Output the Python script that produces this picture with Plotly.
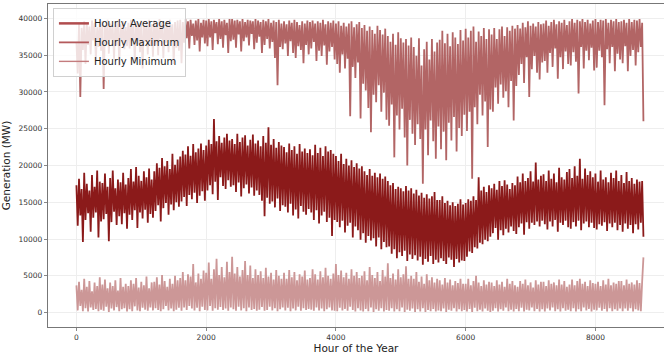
import plotly.graph_objects as go

# Hour positions of the sampled readings (one reading every 20 hours)
hours = list(range(0, 8760, 20))

# Values (MW); consecutive readings swing between
# the upper and lower edge of each band, as the hourly data does.
hourly_average = [
    17300, 11800, 18200, 13200, 16800, 9600, 19000, 12600, 17500, 13500, 16600, 11000, 18700, 12900, 17100, 13600, 19300, 10200, 17800, 12400,
    17600, 12700, 18900, 13400, 17100, 9700, 18300, 12300, 19300, 13700, 16900, 11900, 18100, 13100, 17700, 12000, 19000, 13500, 17400, 11400,
    18300, 13300, 19500, 12600, 17800, 13900, 19800, 11500, 18600, 13600, 17900, 12800, 19200, 14000, 18400, 12200, 19600, 13400, 18100, 12900,
    19200, 13800, 20300, 14600, 19700, 12400, 21000, 14200, 19900, 14900, 20600, 13300, 19500, 14700, 21600, 13900, 20100, 15000, 20800, 14400,
    21200, 15100, 22000, 15700, 21500, 14500, 22600, 16000, 21300, 15400, 22900, 16300, 21800, 14900, 22300, 15900, 23000, 16500, 22100, 15200,
    22700, 16600, 23500, 17300, 22900, 16100, 26300, 17800, 23300, 15300, 24000, 18400, 23100, 17200, 23800, 16800, 24300, 18000, 23400, 17100,
    23600, 17300, 22900, 16400, 24300, 17700, 23200, 15800, 23800, 16900, 24100, 17400, 22700, 16200, 23500, 17000, 24200, 15900, 23000, 16600,
    23400, 16000, 22600, 15200, 24000, 13100, 23100, 15600, 25200, 14800, 22800, 15100, 23600, 14300, 22400, 15500, 23200, 13800, 22700, 14600,
    22500, 14400, 21800, 13600, 23000, 14800, 22100, 13200, 22600, 14000, 21600, 12800, 22900, 14500, 21900, 13700, 22300, 13300, 21700, 14100,
    22200, 13600, 21400, 12600, 22800, 13900, 21700, 12100, 22400, 13200, 21300, 13700, 22600, 12300, 21900, 12900, 22100, 10400, 21600, 12600,
    21300, 12300, 20600, 11600, 21600, 12500, 20200, 10900, 20900, 11800, 20000, 12200, 20700, 10200, 19800, 11700, 20300, 11200, 19600, 9900,
    19900, 10800, 19200, 9500, 18700, 10400, 19500, 9800, 18600, 10100, 19000, 9000, 18400, 10200, 18900, 8600, 18200, 9600, 18500, 8900,
    17900, 9000, 17300, 8000, 17600, 8600, 16800, 7400, 17100, 8200, 16900, 7700, 16500, 8400, 17200, 7000, 16600, 7900, 16900, 7300,
    16200, 7800, 16700, 7100, 15900, 7600, 16300, 6500, 15600, 7300, 16100, 6900, 15500, 7700, 15800, 6600, 16400, 7200, 15300, 6800,
    15300, 7400, 15800, 7000, 14900, 6600, 15200, 7500, 14600, 7200, 15000, 6200, 14500, 7300, 14800, 6800, 15400, 7100, 14700, 7000,
    14900, 7600, 15400, 8300, 15200, 8100, 15800, 8900, 15300, 8700, 18400, 9500, 16600, 9300, 17100, 9900, 16400, 9700, 17300, 10300,
    16900, 10800, 17500, 11500, 16700, 9900, 17900, 11200, 17200, 10500, 18000, 11400, 17400, 10900, 16800, 11700, 17600, 11100, 17300, 10700,
    18500, 11600, 17700, 12100, 18900, 10600, 17900, 12300, 18300, 11400, 19200, 12200, 17800, 11900, 20400, 12400, 18100, 11700, 18600, 12500,
    18800, 12000, 17900, 11300, 19300, 12400, 18200, 11700, 18900, 12600, 17700, 11000, 19700, 12200, 18400, 11900, 18100, 12500, 19100, 11600,
    19500, 11400, 18300, 12300, 19900, 11700, 18600, 12500, 20900, 11200, 18200, 12100, 19600, 12400, 18700, 11600, 19200, 12200, 18400, 11500,
    18900, 11300, 17800, 12000, 19300, 11800, 18100, 12300, 18400, 11100, 17700, 12100, 19000, 11600, 18300, 12200, 19300, 11200, 17900, 11900,
    18700, 11000, 17600, 12100, 19100, 11400, 17900, 11900, 18300, 10800, 17500, 12000, 18100, 11300, 17800, 12200, 17900, 10300,
]

hourly_maximum = [
    36800, 32500, 39300, 29300, 38700, 35700, 39600, 33800, 39200, 36400, 38900, 35100, 39700, 37000, 39400, 34200, 38800, 36100, 39500, 35600,
    39600, 30400, 39100, 36600, 39800, 35200, 39300, 37100, 38900, 34500, 39500, 36300, 39700, 33600, 39200, 36900, 39600, 35800, 38800, 36200,
    39400, 35900, 39800, 37000, 39100, 34200, 39600, 36500, 39300, 35400, 39700, 33200, 39000, 36800, 39500, 35100, 39800, 36300, 39200, 34800,
    39700, 36300, 39300, 35000, 39900, 37200, 39400, 34600, 39100, 36700, 39600, 35400, 39800, 36900, 39200, 33800, 39500, 36000, 39700, 35600,
    39800, 33900, 39500, 36700, 39900, 37300, 39600, 35900, 39800, 37600, 39300, 36400, 39700, 37000, 39900, 35500, 39400, 37400, 39800, 36600,
    39700, 36200, 39900, 37400, 39600, 35700, 39800, 38000, 39500, 36500, 39900, 37200, 39600, 36000, 39800, 37700, 39400, 35300, 39900, 36900,
    39900, 37100, 39700, 36000, 39800, 37800, 39600, 35500, 39900, 36900, 39500, 37400, 39800, 36300, 39700, 37900, 39600, 35800, 39900, 36700,
    39700, 37500, 39500, 35300, 39800, 36400, 39600, 37200, 39900, 35900, 39400, 36800, 39700, 34600, 39500, 30900, 39800, 36100, 39300, 35800,
    39600, 36600, 39200, 34900, 39700, 36900, 39400, 35300, 39800, 34600, 39500, 36200, 39100, 35700, 39600, 33900, 39300, 36400, 39700, 35100,
    39500, 35900, 39700, 36800, 39300, 34200, 39600, 35600, 39400, 34900, 39800, 36300, 39200, 33700, 39600, 35500, 39400, 36100, 39700, 34400,
    39300, 33800, 39600, 32600, 39000, 35100, 39400, 33200, 38900, 34500, 39300, 26700, 39600, 33400, 38800, 31900, 39200, 34000, 39500, 26400,
    38700, 31100, 39100, 30200, 38300, 27800, 38900, 24500, 38400, 29600, 37900, 28600, 39000, 30900, 38400, 27300, 37800, 29900, 38600, 26200,
    37600, 25400, 36800, 28300, 37900, 21100, 36400, 26800, 38100, 24900, 37300, 27700, 36700, 23800, 37200, 20000, 36300, 26200, 37400, 24300,
    36100, 22800, 34900, 25600, 37300, 23600, 33600, 17500, 35800, 24900, 36800, 21400, 34400, 26100, 37200, 23300, 35500, 20900, 36700, 25300,
    37100, 22200, 38300, 24600, 36600, 20700, 37900, 25800, 36200, 23400, 38100, 26600, 37400, 21900, 36500, 25100, 38400, 24000, 37000, 26900,
    38600, 24700, 37400, 27300, 38300, 18200, 38900, 27900, 36800, 25600, 38200, 29600, 37600, 26800, 38700, 28700, 37200, 22500, 38500, 27600,
    37800, 27300, 38700, 30600, 37200, 28400, 38500, 31000, 38900, 29200, 37600, 30100, 38800, 27900, 38300, 31500, 39000, 26100, 38600, 30800,
    39100, 32300, 38600, 33800, 39400, 31200, 38800, 34700, 39600, 29300, 39000, 33100, 39300, 34900, 38900, 32600, 39500, 31700, 39200, 34000,
    39300, 34200, 39700, 32600, 39000, 35300, 39500, 33400, 39800, 35900, 39200, 31800, 39600, 34700, 39400, 33100, 39800, 35500, 39100, 33800,
    39600, 33600, 39900, 35400, 39400, 34100, 39800, 29800, 39600, 36100, 39900, 33200, 39500, 35600, 39800, 34300, 39300, 36000, 39700, 32900,
    39900, 33300, 39500, 35600, 39800, 34700, 39700, 28200, 39900, 35800, 39400, 33900, 39800, 36100, 39600, 32800, 39900, 35200, 39500, 34400,
    39600, 33900, 39800, 36200, 39400, 32800, 39900, 34900, 39500, 35700, 39800, 33600, 39700, 35400, 39900, 36100, 39400, 26000,
]

hourly_minimum = [
    3700, 300, 4200, 900, 3100, 200, 4600, 600, 3500, 150, 4300, 700, 2900, 350, 4100, 500, 3600, 200, 4800, 400,
    3800, 250, 4500, 800, 3300, 100, 4100, 550, 3600, 300, 4400, 750, 3000, 200, 4700, 450, 3500, 600, 3900, 150,
    3600, 450, 4400, 200, 3900, 850, 4700, 300, 3400, 200, 4200, 650, 3700, 400, 4900, 250, 3300, 700, 4100, 300,
    4200, 600, 4800, 350, 3800, 200, 5100, 450, 4300, 900, 3500, 300, 4600, 550, 3900, 200, 5000, 400, 4400, 650,
    4700, 250, 5500, 700, 4400, 350, 5200, 900, 4900, 550, 6600, 300, 4100, 650, 5300, 200, 4600, 800, 5700, 350,
    5400, 300, 6800, 900, 4600, 250, 5900, 600, 7300, 400, 5100, 750, 6200, 350, 4800, 550, 6900, 250, 5500, 700,
    7600, 450, 5300, 250, 6200, 800, 4900, 300, 5800, 600, 7000, 200, 5100, 700, 6400, 350, 4700, 500, 5900, 250,
    5100, 400, 5600, 750, 4700, 250, 6100, 350, 4900, 800, 5400, 300, 4500, 600, 5800, 200, 5000, 450, 4600, 700,
    5400, 300, 4600, 650, 5800, 200, 4800, 550, 5500, 300, 4400, 800, 5200, 250, 4900, 600, 5700, 350, 4500, 500,
    4700, 400, 5900, 250, 5200, 700, 4500, 300, 5600, 550, 4800, 200, 6100, 450, 5000, 700, 4600, 300, 5300, 250,
    6600, 200, 5100, 650, 5700, 300, 4800, 500, 5400, 250, 4600, 800, 5900, 350, 5000, 150, 5500, 600, 4700, 300,
    5000, 150, 5600, 500, 4400, 200, 6200, 700, 5100, 100, 4700, 450, 5500, 250, 4300, 600, 5800, 150, 4900, 350,
    6700, 250, 4700, 600, 5300, 150, 4500, 450, 5900, 200, 4800, 700, 5200, 100, 6300, 400, 4600, 250, 5000, 550,
    4600, 100, 5500, 450, 4200, 150, 4900, 600, 3900, 100, 5200, 350, 4400, 200, 4800, 500, 4100, 150, 4600, 300,
    4400, 200, 3800, 550, 4700, 100, 4100, 400, 4500, 250, 3700, 600, 4300, 150, 4000, 450, 4600, 200, 3900, 350,
    3900, 150, 4600, 500, 3700, 100, 4300, 650, 5000, 200, 4100, 400, 3600, 150, 4400, 550, 3800, 250, 4200, 100,
    4100, 250, 3600, 600, 4400, 150, 3800, 450, 4200, 250, 3500, 700, 4600, 200, 3900, 400, 4300, 150, 3700, 500,
    3500, 200, 4300, 650, 3900, 150, 4500, 400, 3700, 300, 4100, 700, 3400, 200, 4400, 500, 3800, 150, 4200, 450,
    4200, 150, 3600, 550, 4400, 300, 3900, 700, 4100, 200, 3700, 450, 4500, 150, 3800, 600, 4300, 250, 3500, 400,
    3800, 200, 4500, 600, 3700, 150, 4300, 450, 4600, 200, 3900, 700, 4200, 300, 3600, 500, 4400, 150, 4000, 400,
    3900, 300, 4200, 650, 3600, 250, 4400, 500, 3800, 150, 4600, 600, 3700, 200, 4100, 450, 3900, 250, 4300, 550,
    4300, 200, 3700, 550, 4500, 250, 3900, 600, 4100, 150, 3800, 450, 4400, 300, 4000, 200, 4200, 7500,
]

x_ticks = [0, 2000, 4000, 6000, 8000]
y_ticks = [0, 5000, 10000, 15000, 20000, 25000, 30000, 35000, 40000]

FONT = "DejaVu Sans"
c_avg = "#8b1a1a"
c_max = "#b26565"
c_min = "#cc9797"
LW = 1.8

fig = go.Figure()
fig.add_trace(go.Scatter(x=hours, y=hourly_maximum, mode="lines",
                         line=dict(color=c_max, width=LW), showlegend=False,
                         hoverinfo="skip"))
fig.add_trace(go.Scatter(x=hours, y=hourly_average, mode="lines",
                         line=dict(color=c_avg, width=LW), showlegend=False,
                         hoverinfo="skip"))
fig.add_trace(go.Scatter(x=hours, y=hourly_minimum, mode="lines",
                         line=dict(color=c_min, width=LW), showlegend=False,
                         hoverinfo="skip"))

# legend entries (styled like the reference legend)
fig.add_trace(go.Scatter(x=[None], y=[None], mode="lines", name="Hourly Average",
                         line=dict(color="#b04c4e", width=2.5)))
fig.add_trace(go.Scatter(x=[None], y=[None], mode="lines", name="Hourly Maximum",
                         line=dict(color="#b45a5c", width=1.8)))
fig.add_trace(go.Scatter(x=[None], y=[None], mode="lines", name="Hourly Minimum",
                         line=dict(color="#c47c7e", width=1.4)))

fig.update_layout(
    width=664, height=358,
    margin=dict(l=48, r=0, t=4, b=31),
    paper_bgcolor="white", plot_bgcolor="white",
    font=dict(family=FONT, color="#333333"),
    legend=dict(x=0.008, y=0.988, xanchor="left", yanchor="top",
                bgcolor="rgba(255,255,255,0.8)", bordercolor="#d0d0d0",
                borderwidth=1, font=dict(family=FONT, size=10, color="#222222"),
                tracegroupgap=0),
    xaxis=dict(range=[-438, 9057], tickvals=x_ticks, ticktext=[str(v) for v in x_ticks],
               tickfont=dict(size=7.5, color="#333333"), automargin=False,
               showgrid=True, gridcolor="#eeeeee", gridwidth=1,
               zeroline=False, showline=True, linecolor="#777777", linewidth=1.3,
               mirror=True, ticks="outside", ticklen=3, tickcolor="#888888",
               title=dict(text="Hour of the Year", font=dict(size=10.5, color="#222222"),
                          standoff=2)),
    yaxis=dict(range=[-1960, 41950], tickvals=y_ticks, ticktext=[str(v) for v in y_ticks],
               tickfont=dict(size=7.5, color="#333333"), automargin=False,
               showgrid=True, gridcolor="#eeeeee", gridwidth=1,
               zeroline=False, showline=True, linecolor="#777777", linewidth=1.3,
               ticks="outside", ticklen=3, tickcolor="#888888",
               title=dict(text="Generation (MW)", font=dict(size=10.5, color="#222222"),
                          standoff=7)),
)

fig.write_html("out.html", config={"displayModeBar": False},
               post_script="document.body.style.margin='0';document.body.style.overflow='hidden';")
